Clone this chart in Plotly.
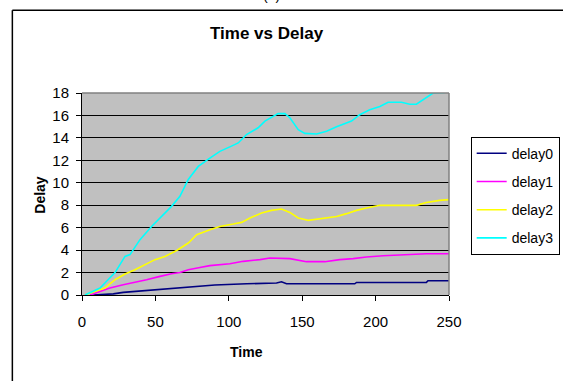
import plotly.graph_objects as go

# ---- data ----
t3 = [2, 12.3, 15.6, 22.5, 29.3, 32.7, 39.5, 47.4, 61, 66.7, 72.4, 79.2, 87.1, 93.9, 100.7, 106.4,
      112.1, 120, 124.6, 129.1, 133.6, 138.2, 141.6, 147.3, 151.8, 159.8, 166.6, 173.4, 183.6,
      189.2, 196, 202.9, 208.5, 217.6, 223.3, 227.8, 234.6, 239.2, 247, 250]
d3 = [0, 0.62, 1.07, 2.0, 3.44, 3.6, 4.93, 6.1, 7.9, 8.8, 10.3, 11.46, 12.2, 12.8, 13.2, 13.55,
      14.3, 14.9, 15.5, 15.8, 16.16, 16.16, 15.8, 14.73, 14.4, 14.35, 14.6, 15.0, 15.5,
      16.07, 16.5, 16.8, 17.17, 17.17, 17.0, 17.0, 17.55, 18.0, 18.05, 18.2]

t2 = [2, 8.8, 15.6, 22.5, 29.3, 36.1, 42.9, 49.7, 56.5, 64.5, 72.4, 78.1, 87.1, 93.9, 103, 108.7,
      114.4, 122.3, 129.1, 135.9, 141.6, 147.3, 154.1, 159.8, 166.6, 173.4, 180.2, 187, 193.8,
      202.9, 227.8, 234.6, 243.7, 250]
d2 = [0, 0.32, 0.62, 1.36, 1.87, 2.25, 2.7, 3.15, 3.44, 3.97, 4.63, 5.37, 5.82, 6.11, 6.32, 6.47,
      6.86, 7.3, 7.54, 7.66, 7.36, 6.86, 6.65, 6.77, 6.86, 7.0, 7.25, 7.54, 7.75,
      7.99, 7.99, 8.25, 8.43, 8.5]

t1 = [5.4, 12.3, 19, 28.1, 36.1, 44, 53.1, 61, 66.7, 72.4, 80.3, 87.1, 100.7, 109.8, 121.2, 128,
      141.6, 152.9, 165.4, 175.6, 184.7, 193.8, 205.1, 234.6, 250]
d1 = [0, 0.32, 0.62, 0.92, 1.12, 1.36, 1.66, 1.9, 2.0, 2.25, 2.45, 2.62, 2.79, 3.0, 3.15, 3.3,
      3.24, 2.97, 2.97, 3.15, 3.24, 3.39, 3.5, 3.68, 3.68]

t0 = [7.7, 21.3, 28.1, 42.9, 53.1, 66.7, 75.8, 83.7, 90.5, 112.1, 132.5, 135.9, 139.3, 185.8,
      187, 234.6, 235.7, 250]
d0 = [0, 0.1, 0.23, 0.38, 0.47, 0.6, 0.71, 0.83, 0.89, 1.0, 1.07, 1.18, 1.0, 1.0,
      1.12, 1.12, 1.27, 1.27]

names = ["delay0", "delay1", "delay2", "delay3"]
colors = ["#000080", "#FF00FF", "#FFFF00", "#00FFFF"]
xs = [t0, t1, t2, t3]
ys = [d0, d1, d2, d3]

x_ticks = [0, 50, 100, 150, 200, 250]
y_ticks = [0, 2, 4, 6, 8, 10, 12, 14, 16, 18]

# ---- figure ----
W, H = 563, 381
L, R, T, B = 82, 449.3, 93.3, 295.3
pw, ph = R - L, B - T


def px(xp):
    return (xp - L) / pw


def py(yp):
    return (B - yp) / ph


fig = go.Figure()
for i in range(4):
    fig.add_trace(go.Scatter(x=xs[i], y=ys[i], mode="lines", name=names[i],
                             legendgroup=names[i],
                             line=dict(color=colors[i], width=1.6)))

FONT = "Liberation Sans, Arial, sans-serif"

fig.update_layout(
    width=W, height=H,
    margin=dict(l=L, r=W - R, t=T, b=H - B, pad=0, autoexpand=False),
    paper_bgcolor="white",
    plot_bgcolor="#C0C0C0",
    font=dict(family=FONT, size=14, color="black"),
    showlegend=True,
    legend=dict(x=px(471), y=py(137), xanchor="left", yanchor="top",
                bordercolor="black", borderwidth=1, bgcolor="white",
                font=dict(size=14, family=FONT), tracegroupgap=7),
    xaxis=dict(range=[0, 250], tickvals=x_ticks, showgrid=False, zeroline=False,
               showline=True, linecolor="black", linewidth=1,
               ticks="outside", ticklen=5, tickcolor="black",
               ticklabelstandoff=8, tickfont=dict(size=15)),
    yaxis=dict(range=[0, 18], tickvals=y_ticks, showgrid=True, gridcolor="black",
               gridwidth=1, zeroline=False,
               showline=True, linecolor="black", linewidth=1,
               ticks="outside", ticklen=5, tickcolor="black",
               ticklabelstandoff=4, tickfont=dict(size=15)),
)

# plot-area top/right border (gray)
fig.add_shape(type="line", xref="paper", yref="paper", x0=0, x1=1, y0=1, y1=1,
              line=dict(color="#808080", width=1.5))
fig.add_shape(type="line", xref="paper", yref="paper", x0=1, x1=1, y0=0, y1=1,
              line=dict(color="#808080", width=1.5))

# outer chart frame (left and top visible)
fig.add_shape(type="line", xref="paper", yref="paper", x0=px(12.3), x1=px(570),
              y0=py(10.5), y1=py(10.5), line=dict(color="black", width=1.5))
fig.add_shape(type="line", xref="paper", yref="paper", x0=px(12.3), x1=px(12.3),
              y0=py(10.5), y1=py(390), line=dict(color="black", width=1.5))

# titles
fig.add_annotation(text="<b>Time vs Delay</b>", xref="paper", yref="paper",
                   x=px(267), y=py(34), showarrow=False, xanchor="center", yanchor="middle",
                   font=dict(size=17, family=FONT))
fig.add_annotation(text="<b>Time</b>", xref="paper", yref="paper",
                   x=px(247), y=py(352), showarrow=False, xanchor="center", yanchor="middle",
                   font=dict(size=14, family=FONT))
fig.add_annotation(text="<b>Delay</b>", xref="paper", yref="paper",
                   x=px(40), y=py(195), showarrow=False, xanchor="center", yanchor="middle",
                   textangle=-90, font=dict(size=14, family=FONT))
fig.add_annotation(text="(a)", xref="paper", yref="paper",
                   x=px(272), y=py(-5), showarrow=False, xanchor="center", yanchor="middle",
                   font=dict(size=14, family=FONT))

fig.write_html("out.html")
